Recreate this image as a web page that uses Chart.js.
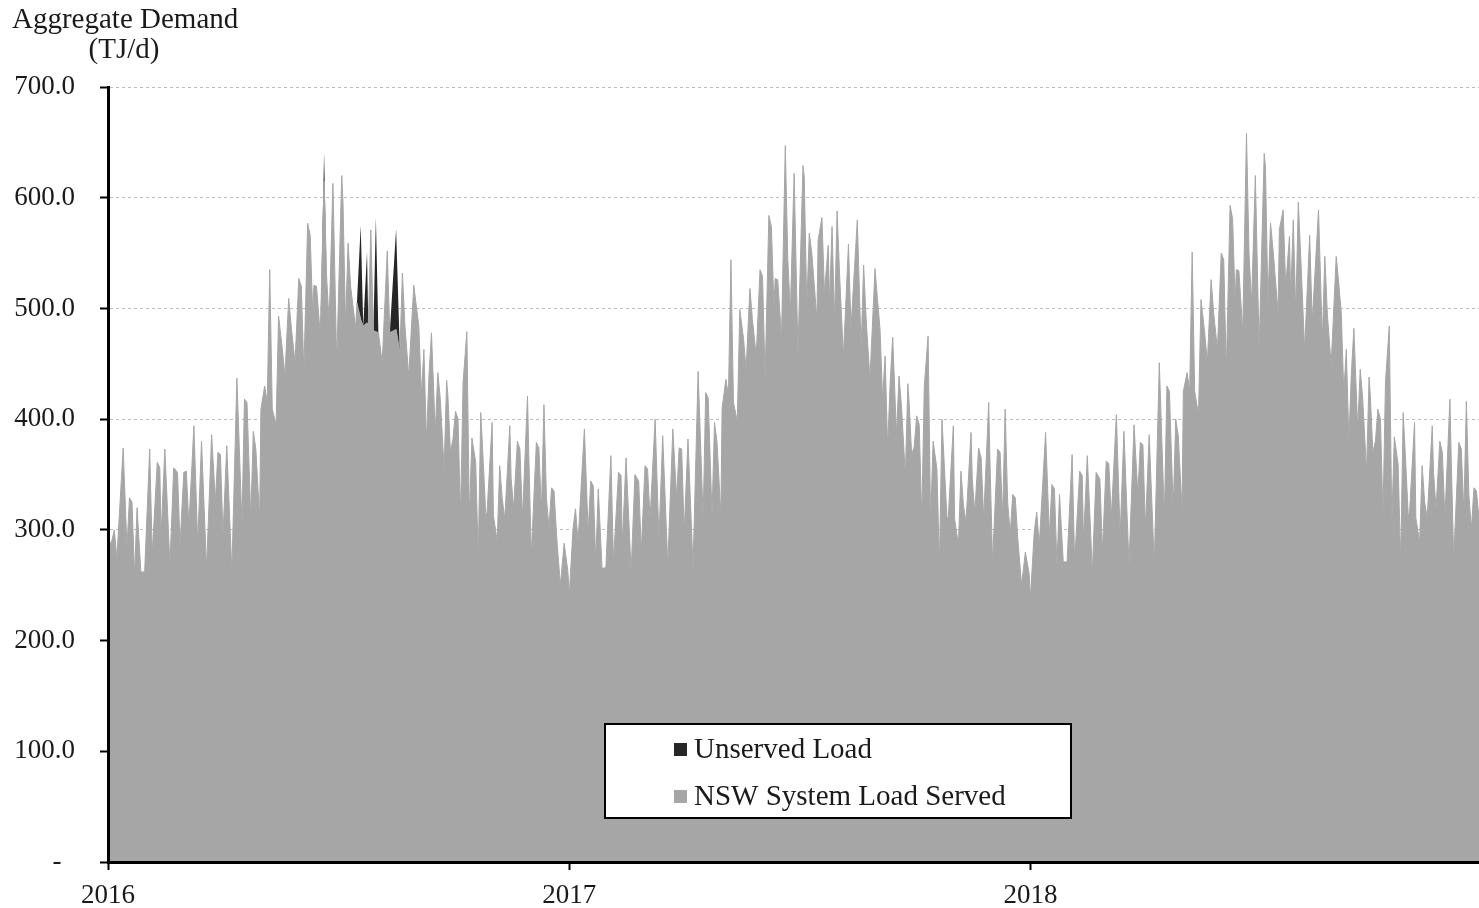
<!DOCTYPE html>
<html>
<head>
<meta charset="utf-8">
<script src="https://cdn.jsdelivr.net/npm/chart.js@4.4.1/dist/chart.umd.min.js"></script>
<style>
  body { margin: 0; background: #fff; }
  canvas { display: block; }
</style>
</head>
<body>
<canvas id="chart" width="1479" height="908"></canvas>
<script>
// day of year of each reading (same weekly pattern each year)
const days = [
  0, 3, 5, 7, 12, 15, 17, 19, 21, 23,
  26, 29, 33, 35, 39, 41, 42, 45, 49, 52,
  55, 57, 60, 62, 64, 68, 71, 74, 78, 82,
  85, 87, 89, 91, 94, 98, 102, 106, 108, 110,
  113, 115, 117, 120, 121, 124, 126, 128, 130, 133,
  135, 138, 140, 143, 145, 148, 151, 153, 155, 158,
  160, 162, 163, 165, 168, 171, 173, 175, 178,
  181, 185, 186, 188, 190, 192, 196, 197, 200, 202,
  205, 206, 208, 210, 212, 214, 217, 221, 223, 228,
  231, 233, 235, 238, 242, 244, 246, 248, 250, 252,
  254, 256, 259, 261, 263, 266, 268, 269, 271, 273,
  275, 277, 279, 281, 284, 286, 288, 291, 293, 295,
  297, 299, 300, 304, 305, 308, 310, 312, 314, 318,
  319, 321, 324, 326, 328, 332, 333, 335, 339, 341,
  343, 345, 347, 349, 351, 353, 355, 358, 361, 364
];

// NSW system load served, TJ/d
const served2016 = [
  285, 290, 300, 274, 374, 284, 329, 325, 259, 320,
  262, 262, 373, 278, 361, 356, 295, 373, 268, 356,
  352, 286, 352, 353, 304, 394, 287, 380, 265, 386,
  326, 370, 368, 295, 376, 262, 437, 305, 418, 415,
  311, 389, 373, 310, 409, 430, 415, 535, 409, 395,
  493, 463, 439, 509, 484, 451, 527, 520, 442, 577,
  566, 496, 521, 520, 476, 615, 529, 488, 613,
  451, 620, 595, 484, 559, 520, 482, 505, 490, 484,
  487, 485, 571, 480, 479, 478, 451, 552, 478, 481,
  460, 532, 484, 439, 521, 502, 484, 422, 463, 380,
  439, 478, 388, 442, 418, 355, 435, 421, 370, 382,
  407, 400, 313, 433, 479, 311, 383, 361, 274, 406,
  361, 313, 316, 397, 313, 290, 358, 328, 310, 394,
  347, 319, 380, 373, 310, 421, 368, 277, 379, 374,
  316, 413, 328, 302, 338, 335, 295, 250, 288, 262
];
const served2017 = [
  240, 301, 319, 289, 391, 298, 344, 340, 271, 337,
  265, 266, 367, 271, 352, 349, 287, 365, 262, 350,
  344, 280, 358, 355, 310, 400, 292, 385, 268, 391,
  329, 374, 373, 298, 382, 266, 443, 310, 424, 419,
  313, 397, 379, 313, 410, 436, 421, 544, 415, 398,
  499, 472, 445, 518, 490, 457, 535, 529, 437, 584,
  574, 502, 527, 526, 473, 647, 544, 496, 622,
  460, 629, 619, 502, 568, 550, 490, 562, 582, 514,
  557, 505, 574, 490, 588, 530, 457, 558, 482, 580,
  463, 539, 490, 436, 536, 508, 481, 418, 457, 374,
  433, 474, 386, 439, 411, 349, 432, 415, 368, 375,
  403, 395, 310, 430, 475, 307, 380, 355, 269, 400,
  355, 310, 312, 394, 310, 286, 353, 322, 307, 388,
  345, 316, 374, 365, 310, 415, 362, 271, 373, 370,
  311, 409, 325, 296, 332, 329, 292, 250, 280, 260
];
const served2018 = [
  238, 298, 316, 286, 388, 295, 341, 337, 268, 332,
  271, 271, 368, 271, 353, 349, 289, 367, 262, 352,
  346, 280, 362, 360, 311, 404, 295, 389, 268, 395,
  332, 379, 377, 302, 386, 269, 451, 311, 430, 425,
  319, 400, 385, 318, 425, 442, 425, 551, 425, 404,
  508, 477, 451, 526, 496, 463, 550, 544, 443, 593,
  581, 506, 535, 534, 479, 658, 550, 504, 620,
  463, 640, 628, 505, 577, 553, 496, 571, 589, 520,
  565, 510, 580, 496, 596, 545, 463, 566, 488, 589,
  471, 547, 495, 449, 547, 523, 496, 424, 463, 380,
  442, 482, 391, 445, 418, 352, 438, 421, 370, 380,
  409, 400, 313, 434, 484, 307, 384, 359, 271, 406,
  361, 313, 315, 397, 311, 289, 358, 325, 311, 394,
  352, 319, 380, 370, 311, 418, 365, 274, 379, 373,
  316, 416, 331, 301, 338, 335, 310
];

// unserved load only shows in winter 2016
const unservedDays = [171, 200, 205, 212, 228];
const unserved2016 = [26, 85, 64, 103, 91];

const yearTicks = [2016, 2017, 2018];
const xMax = 2018 + 355 / 365;

let servedPts = [];
let unservedPts = [];
[[2016, served2016], [2017, served2017], [2018, served2018]].forEach(([year, vals]) => {
  vals.forEach((v, i) => {
    const x = year + days[i] / 365;
    servedPts.push({ x: x, y: v });
    const k = year === 2016 ? unservedDays.indexOf(days[i]) : -1;
    unservedPts.push({ x: x, y: k >= 0 ? unserved2016[k] : 0 });
  });
});

const FONT = "'Liberation Serif', 'Times New Roman', serif";
const GREY = "#a6a6a6";
const DARK = "#262626";

// axis title top-left
const axisTitle = {
  id: "axisTitle",
  afterDraw(chart) {
    const ctx = chart.ctx;
    ctx.save();
    ctx.fillStyle = "#1a1a1a";
    ctx.font = "29px " + FONT;
    ctx.textBaseline = "alphabetic";
    ctx.textAlign = "left";
    ctx.fillText("Aggregate Demand", 12, 28);
    ctx.textAlign = "center";
    ctx.fillText("(TJ/d)", 124, 58);
    ctx.restore();
  },
};

// boxed legend sitting inside the plot
const boxLegend = {
  id: "boxLegend",
  afterDraw(chart) {
    const ctx = chart.ctx;
    const area = chart.chartArea;
    const bx = area.left + 497;
    const by = area.bottom - 138;
    const bw = 466;
    const bh = 94;
    ctx.save();
    ctx.fillStyle = "#fff";
    ctx.fillRect(bx, by, bw, bh);
    ctx.lineWidth = 2;
    ctx.strokeStyle = "#000";
    ctx.strokeRect(bx, by, bw, bh);

    const items = [chart.data.datasets[1], chart.data.datasets[0]];
    ctx.font = "29px " + FONT;
    ctx.textBaseline = "middle";
    ctx.textAlign = "left";
    items.forEach((ds, i) => {
      const cy = by + 25 + i * 47;
      ctx.fillStyle = ds.backgroundColor;
      ctx.fillRect(bx + 69, cy - 6, 13, 13);
      ctx.fillStyle = "#1a1a1a";
      ctx.fillText(ds.label, bx + 89, cy + 1);
    });
    ctx.restore();
  },
};

new Chart(document.getElementById("chart"), {
  type: "line",
  data: {
    datasets: [
      {
        label: "NSW System Load Served",
        data: servedPts,
        backgroundColor: GREY,
        borderColor: GREY,
        borderWidth: 1,
        fill: "origin",
        pointRadius: 0,
        tension: 0,
      },
      {
        label: "Unserved Load",
        data: unservedPts,
        backgroundColor: DARK,
        borderColor: "rgba(0,0,0,0)",
        borderWidth: 0,
        fill: "-1",
        pointRadius: 0,
        tension: 0,
      },
    ],
  },
  options: {
    responsive: false,
    devicePixelRatio: 1,
    animation: false,
    events: [],
    layout: { padding: { top: 87, left: 0, right: 0, bottom: 0 } },
    plugins: {
      legend: { display: false },
      tooltip: { enabled: false },
    },
    scales: {
      x: {
        type: "linear",
        min: 2016,
        max: xMax,
        afterBuildTicks: (scale) => {
          scale.ticks = yearTicks.map((v) => ({ value: v }));
        },
        afterFit: (scale) => {
          scale.height = 46;
        },
        grid: {
          drawOnChartArea: false,
          drawTicks: true,
          tickLength: 8,
          tickWidth: 2,
          tickColor: "#000",
        },
        border: { color: "#000", width: 3, z: 1 },
        ticks: {
          callback: (v) => String(v),
          color: "#1a1a1a",
          font: { family: FONT, size: 27 },
          padding: 10,
          maxRotation: 0,
        },
      },
      y: {
        stacked: true,
        min: 0,
        max: 700,
        afterFit: (scale) => {
          scale.width = 108;
        },
        grid: {
          color: "#bdbdbd",
          lineWidth: 1,
          tickLength: 8,
          tickWidth: 2,
          tickColor: "#000",
        },
        border: { color: "#000", width: 3, dash: [3, 3], z: 1 },
        ticks: {
          stepSize: 100,
          callback: (v) => (v === 0 ? "-  " : v.toFixed(1)),
          color: "#1a1a1a",
          font: { family: FONT, size: 27 },
          padding: 25,
        },
      },
    },
  },
  plugins: [axisTitle, boxLegend],
});
</script>
</body>
</html>
